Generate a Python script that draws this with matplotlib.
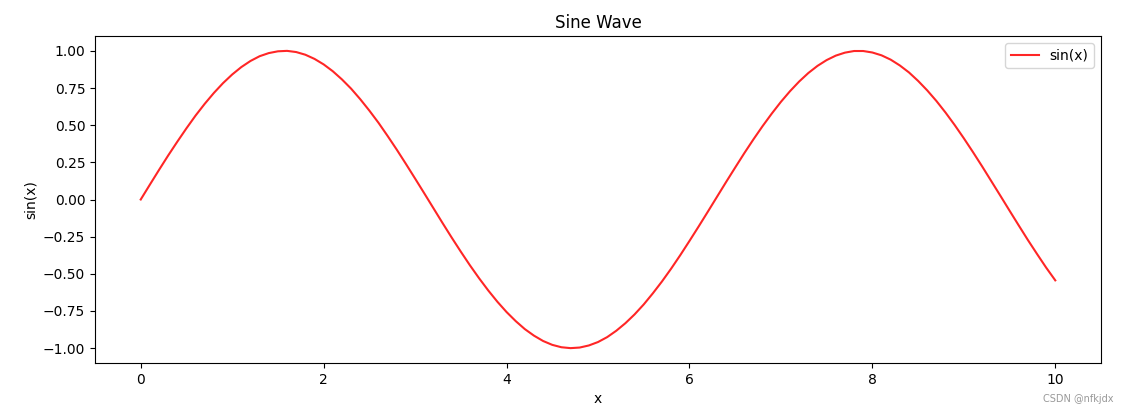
import matplotlib
matplotlib.use("Agg")
import matplotlib.pyplot as plt
import numpy as np

x_values = np.linspace(0.0, 10.0, 101)
sin_values = [0.000, 0.100, 0.199, 0.296, 0.389, 0.479, 0.565, 0.644, 0.717, 0.783,
              0.841, 0.891, 0.932, 0.964, 0.985, 0.997, 1.000, 0.992, 0.974, 0.946,
              0.909, 0.863, 0.808, 0.746, 0.675, 0.598, 0.516, 0.427, 0.335, 0.239,
              0.141, 0.042, -0.058, -0.158, -0.256, -0.351, -0.443, -0.530, -0.612, -0.688,
              -0.757, -0.818, -0.872, -0.916, -0.952, -0.978, -0.994, -1.000, -0.996, -0.982,
              -0.959, -0.926, -0.883, -0.832, -0.773, -0.706, -0.631, -0.551, -0.465, -0.374,
              -0.279, -0.182, -0.083, 0.017, 0.117, 0.215, 0.312, 0.405, 0.494, 0.578,
              0.657, 0.729, 0.794, 0.851, 0.899, 0.938, 0.968, 0.988, 0.999, 0.999,
              0.989, 0.970, 0.941, 0.902, 0.855, 0.798, 0.734, 0.663, 0.585, 0.501,
              0.412, 0.319, 0.223, 0.124, 0.025, -0.075, -0.174, -0.272, -0.366, -0.458,
              -0.544]
y_ticks = [-1.0, -0.75, -0.5, -0.25, 0.0, 0.25, 0.5, 0.75, 1.0]

fig = plt.figure(figsize=(11.30, 4.16), dpi=100)
ax = fig.add_axes([95 / 1130, 1 - 363 / 416, (1101 - 95) / 1130, (363 - 36) / 416])
ax.plot(x_values, sin_values, color="red", linewidth=1.5, label="sin(x)", alpha=0.85)
ax.set_xlim(-0.5, 10.5)
ax.set_ylim(-1.1, 1.1)
ax.set_yticks(y_ticks)
ax.set_title("Sine Wave", fontsize=12)
ax.set_xlabel("x")
ax.set_ylabel("sin(x)")
ax.legend(loc="upper right")
fig.text(1078 / 1130, 1 - 399 / 416, "CSDN @nfkjdx", fontsize=7, color="#999999",
         ha="center", va="center")
fig.savefig("out.png", dpi=100)
